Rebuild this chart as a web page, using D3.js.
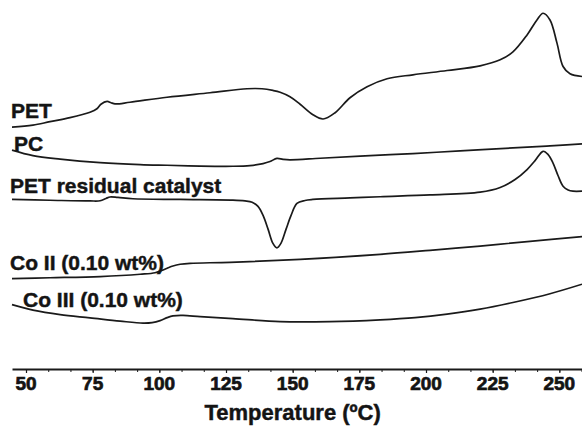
<!DOCTYPE html>
<html>
<head>
<meta charset="utf-8">
<script src="https://cdn.jsdelivr.net/npm/d3@7"></script>
<style>
  html, body { margin: 0; padding: 0; background: #fff; }
  svg { display: block; }
  .lbl { font-family: "Liberation Sans", Arial, sans-serif; font-weight: 700; fill: #141414; stroke: #141414; stroke-width: 0.45px; }
  .tick-lbl { stroke-width: 0.7px; }
</style>
</head>
<body>
<svg id="chart" width="582" height="430"></svg>
<script>
// ---- Data (temperature in °C, heat flow in arbitrary units, curves offset) ----
const xTicks = [50, 75, 100, 125, 150, 175, 200, 225, 250];
const xTitle = "Temperature (ºC)";
const seriesNames = ["PET", "PC", "PET residual catalyst", "Co II (0.10 wt%)", "Co III (0.10 wt%)"];

const petT = [44.75, 52.6, 59.0, 66.5, 74.0, 76.6, 78.1, 80.4, 81.9, 83.4, 89.0, 102.9, 119.0, 132.9, 138.5, 142.6, 145.3, 149.0, 152.8, 157.6, 161.4, 165.9, 171.5, 177.9, 185.4, 195.1, 207.9, 220.3, 227.8, 232.6, 237.9, 241.6, 243.9, 246.5, 249.1, 251.4, 254.0, 258.5];
const petV = [24.25, 24.45, 24.8, 25.2, 25.75, 26.1, 26.55, 26.83, 26.7, 26.58, 26.75, 27.25, 27.7, 28.1, 28.1, 27.93, 27.75, 27.3, 26.55, 25.5, 25.07, 25.7, 27.2, 28.3, 29.1, 29.5, 29.93, 30.4, 31.0, 31.8, 33.5, 35.0, 35.67, 35.0, 32.7, 30.33, 29.6, 29.33];

const pcT = [44.75, 52.6, 62.8, 77.8, 92.8, 102.9, 115.3, 127.6, 134.0, 138.9, 141.5, 144.1, 146.4, 149.0, 160.3, 175.3, 195.1, 212.8, 232.6, 246.5, 258.5];
const pcV = [21.95, 21.4, 21.05, 20.7, 20.5, 20.43, 20.35, 20.33, 20.4, 20.6, 20.8, 21.12, 21.02, 20.97, 21.13, 21.35, 21.6, 21.87, 22.17, 22.37, 22.57];

const catT = [44.75, 59.0, 74.0, 77.8, 80.0, 81.5, 84.5, 90.1, 107.8, 127.6, 132.1, 134.8, 137.0, 138.9, 140.8, 142.6, 144.1, 145.6, 147.5, 149.4, 151.6, 154.6, 157.6, 171.5, 182.8, 201.5, 220.3, 227.8, 233.4, 237.9, 240.9, 243.9, 245.8, 247.6, 249.5, 251.4, 253.3, 255.1, 258.5];
const catV = [17.0, 16.92, 16.85, 16.87, 17.1, 17.25, 17.2, 17.07, 17.0, 16.93, 16.85, 16.72, 16.3, 15.4, 14.0, 12.6, 12.15, 12.6, 14.0, 15.4, 16.6, 16.9, 17.0, 17.15, 17.27, 17.45, 17.73, 18.2, 19.0, 20.0, 20.9, 21.83, 21.5, 20.67, 19.4, 18.33, 17.95, 17.83, 17.83];

const co2T = [44.75, 59.0, 77.8, 92.8, 98.4, 101.4, 103.3, 105.1, 107.8, 111.5, 126.5, 152.8, 182.8, 201.5, 220.3, 239.0, 258.5];
const co2V = [9.07, 9.15, 9.27, 9.5, 9.65, 9.93, 10.15, 10.33, 10.5, 10.6, 10.7, 11.0, 11.5, 11.9, 12.33, 12.8, 13.27];

const co3T = [44.75, 52.6, 62.8, 74.0, 85.3, 93.9, 97.3, 100.3, 102.9, 105.1, 108.9, 115.3, 127.6, 145.3, 164.0, 182.8, 195.9, 207.9, 220.3, 232.6, 246.5, 258.5];
const co3V = [6.45, 5.9, 5.45, 5.13, 4.8, 4.6, 4.65, 4.85, 5.15, 5.33, 5.37, 5.25, 5.05, 4.75, 4.75, 4.93, 5.15, 5.5, 6.0, 6.67, 7.55, 8.5];

// ---- Layout ----
const svg = d3.select("#chart");
const x = d3.scaleLinear().domain([44.75, 258.5]).range([12, 582]);
const y = d3.scaleLinear().domain([0, 37]).range([369, 0]);

const series = [
  { name: seriesNames[0], T: petT, V: petV, lx: 11, ly: 118 },
  { name: seriesNames[1], T: pcT, V: pcV, lx: 14, ly: 151 },
  { name: seriesNames[2], T: catT, V: catV, lx: 10, ly: 193 },
  { name: seriesNames[3], T: co2T, V: co2V, lx: 10, ly: 270 },
  { name: seriesNames[4], T: co3T, V: co3V, lx: 23, ly: 307 }
];

const line = d3.line()
  .x(d => x(d[0]))
  .y(d => y(d[1]))
  .curve(d3.curveCatmullRom.alpha(0.5));

series.forEach(s => {
  const pts = s.T.map((t, i) => [t, s.V[i]]);
  svg.append("path")
    .attr("d", line(pts))
    .attr("fill", "none")
    .attr("stroke", "#1a1a1a")
    .attr("stroke-width", 1.7)
    .attr("stroke-linejoin", "round");
  svg.append("text")
    .attr("class", "lbl")
    .attr("x", s.lx)
    .attr("y", s.ly)
    .attr("font-size", 21)
    .text(s.name);
});

// ---- Axis ----
const minorTicks = d3.range(50, 259, 25 / 3).filter(v => v <= 258.5);
const gMinor = svg.append("g").attr("transform", `translate(0,${y(0)})`)
  .call(d3.axisBottom(x).tickValues(minorTicks).tickSize(3).tickSizeOuter(0).tickFormat(""));
gMinor.selectAll("path, line").attr("stroke", "#1a1a1a");
gMinor.select(".domain").attr("stroke-width", 2);

const gAxis = svg.append("g").attr("transform", `translate(0,${y(0)})`)
  .call(d3.axisBottom(x).tickValues(xTicks).tickSize(4).tickSizeOuter(0).tickFormat(""));
gAxis.select(".domain").remove();
gAxis.selectAll("line").attr("stroke", "#1a1a1a").attr("stroke-width", 1.2);

svg.append("g").selectAll("text")
  .data(xTicks)
  .join("text")
  .attr("class", "lbl tick-lbl")
  .attr("x", d => x(d))
  .attr("y", y(0) + 21)
  .attr("text-anchor", "middle")
  .attr("font-size", 19)
  .text(d => d);

svg.append("text")
  .attr("class", "lbl")
  .attr("x", x(150))
  .attr("y", 420)
  .attr("text-anchor", "middle")
  .attr("font-size", 22)
  .text(xTitle);
</script>
</body>
</html>
